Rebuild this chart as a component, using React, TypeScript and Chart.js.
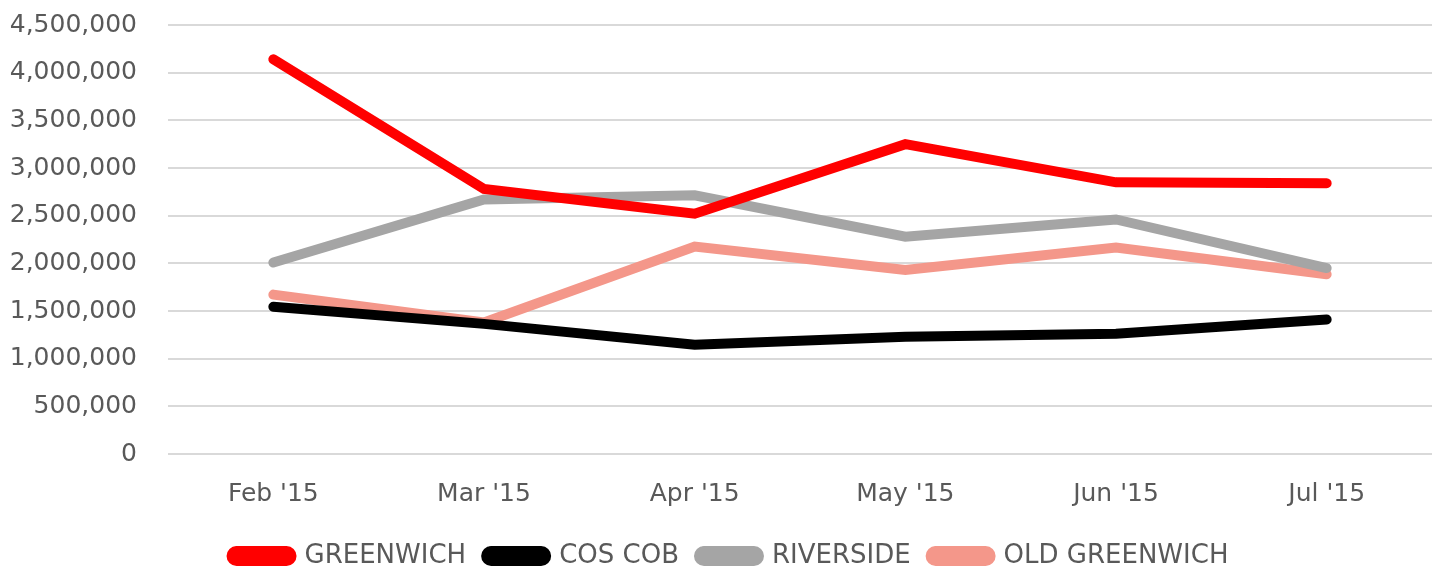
import React, { useEffect, useRef } from "react";
import { Chart, registerables } from "chart.js";

Chart.register(...registerables);

const categories = ["Feb '15", "Mar '15", "Apr '15", "May '15", "Jun '15", "Jul '15"];
const greenwich = [4140000, 2780000, 2520000, 3250000, 2850000, 2840000];
const cosCob = [1545000, 1365000, 1145000, 1230000, 1262000, 1410000];
const riverside = [2008000, 2670000, 2713000, 2280000, 2460000, 1950000];
const oldGreenwich = [1672000, 1380000, 2176000, 1930000, 2166000, 1885000];
const seriesNames = ["GREENWICH", "COS COB", "RIVERSIDE", "OLD GREENWICH"];
const seriesColors = ["#ff0000", "#000000", "#a5a5a5", "#f4978a"];

const shiftLegend = {
  id: "shiftLegend",
  afterLayout(chart: any) {
    const lg = chart.legend;
    if (lg) {
      lg.left += 14;
      lg.right += 14;
    }
  },
};

export default function App() {
  const ref = useRef<HTMLCanvasElement | null>(null);
  useEffect(() => {
    document.body.style.margin = "0";
    const ctx = ref.current;
    if (!ctx) return;
    const data = [greenwich, cosCob, riverside, oldGreenwich];
    const chart = new Chart(ctx, {
      type: "line",
      data: {
        labels: categories,
        datasets: data.map((d, i) => ({
          label: seriesNames[i],
          data: d,
          borderColor: seriesColors[i],
          backgroundColor: seriesColors[i],
          borderWidth: 10,
          borderCapStyle: "round" as const,
          borderJoinStyle: "miter" as const,
          pointRadius: 0,
          tension: 0,
          fill: false,
        })),
      },
      plugins: [shiftLegend],
      options: {
        animation: false,
        responsive: false,
        maintainAspectRatio: false,
        layout: { padding: { top: 0, right: 7, left: 0, bottom: -10 } },
        plugins: {
          tooltip: { enabled: false },
          legend: {
            position: "bottom",
            labels: {
              boxWidth: 60,
              boxHeight: 10,
              useBorderRadius: true,
              borderRadius: 5,
              padding: 20,
              color: "#595959",
              font: { family: "'DejaVu Sans'", size: 26 },
            },
          },
        },
        scales: {
          x: {
            offset: true,
            grid: { display: false, drawTicks: false },
            border: { display: false },
            ticks: {
              color: "#595959",
              padding: 25,
              font: { family: "'DejaVu Sans'", size: 25 },
            },
            afterFit: (s: any) => {
              s.height = 69;
            },
          },
          y: {
            min: 0,
            max: 4500000,
            grid: { color: "#d9d9d9", lineWidth: 2, drawTicks: false },
            border: { display: false },
            ticks: {
              stepSize: 500000,
              color: "#595959",
              padding: 31,
              font: { family: "'DejaVu Sans'", size: 25 },
              callback: (v: any) => Number(v).toLocaleString("en-US"),
            },
            afterFit: (s: any) => {
              s.width = 168;
              s.paddingTop = 25;
              s.paddingBottom = 0;
            },
          },
        },
      },
    });
    return () => chart.destroy();
  }, []);
  return (
    <div style={{ position: "fixed", left: 0, top: 0, width: 1439, height: 569, background: "#fff" }}>
      <canvas ref={ref} width={1439} height={569} style={{ width: 1439, height: 569 }} />
    </div>
  );
}
